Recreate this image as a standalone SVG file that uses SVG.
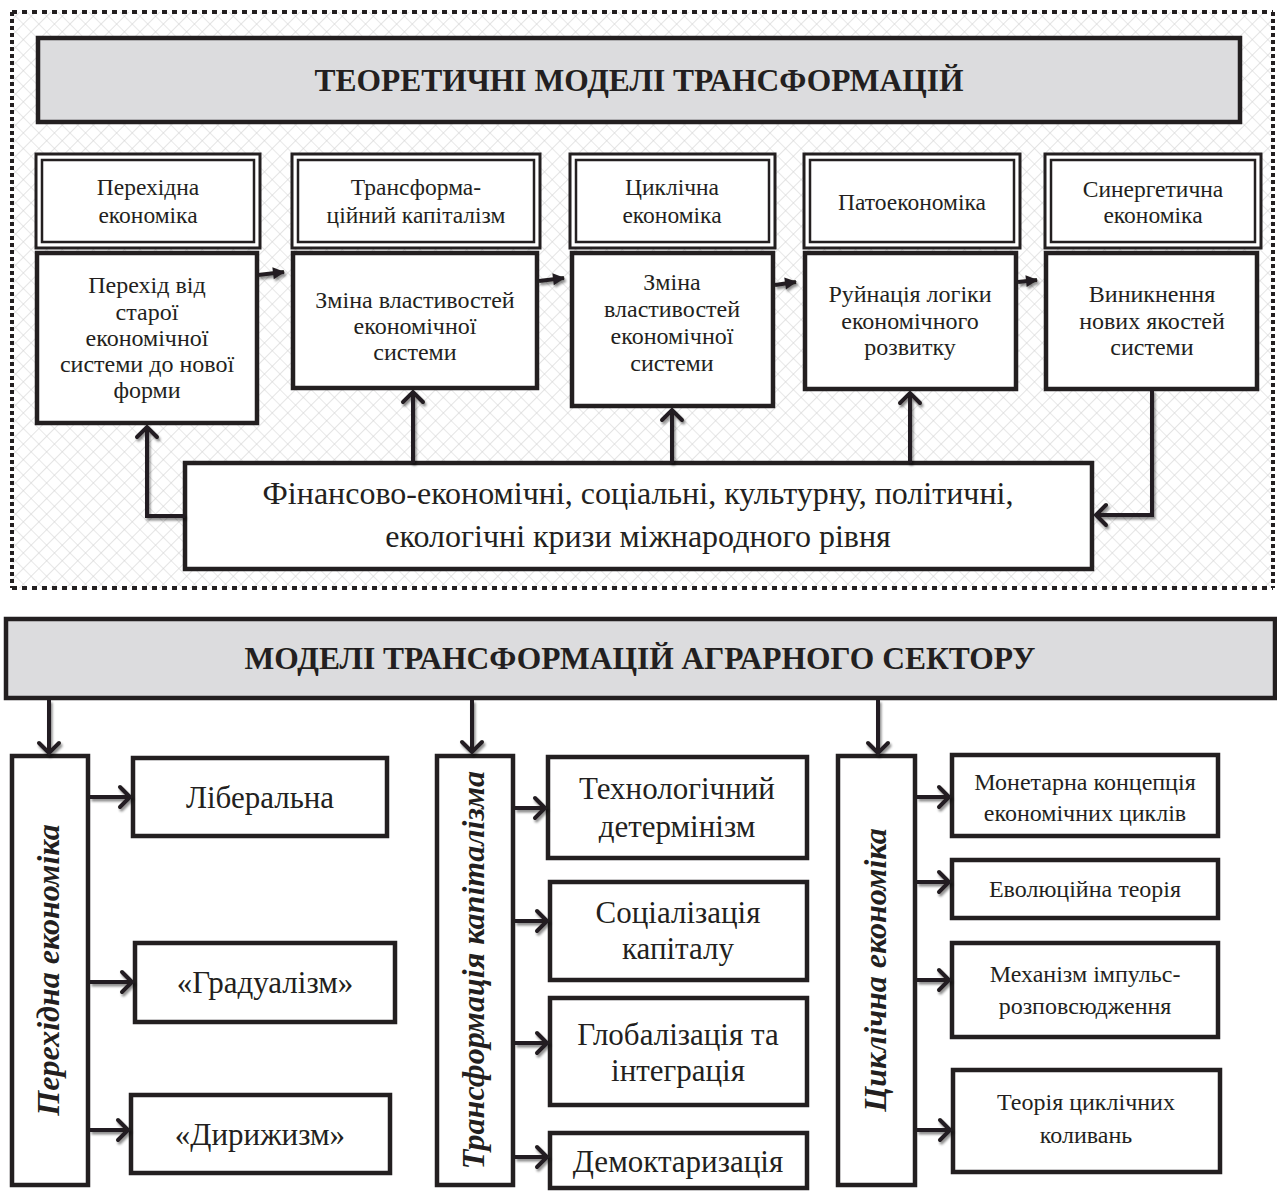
<svg xmlns="http://www.w3.org/2000/svg" width="1277" height="1191" viewBox="0 0 1277 1191">
<style>
.t{font-family:"Liberation Serif","Times New Roman",serif;fill:#231f20;text-anchor:middle}
.n{font-size:23.5px}
.d{font-size:24px}
.h{font-size:31.5px;font-weight:bold}
.c{font-size:32px}
.l{font-size:31px}
.r{font-size:24px}
.v{font-size:32px;font-weight:bold;font-style:italic}
.box{fill:#fff;stroke:#231f20;stroke-width:4.5}
.hdr{fill:#dcdcde;stroke:#231f20;stroke-width:4.5}
.dbo{fill:#fff;stroke:#231f20;stroke-width:3}
.dbi{fill:none;stroke:#231f20;stroke-width:2.5}
.ln{fill:none;stroke:#231f20;stroke-width:4}
.dot{stroke:#231f20;stroke-width:4;fill:none}
</style>
<defs>
<pattern id="hatch" width="11" height="11" patternUnits="userSpaceOnUse" patternTransform="rotate(45)">
<rect width="11" height="11" fill="#fff"/>
<path d="M0,0 H11 M0,0 V11" stroke="#d2d2d2" stroke-width="1.2"/>
</pattern>
<filter id="sh" filterUnits="userSpaceOnUse" x="0" y="0" width="1277" height="1191">
<feDropShadow dx="1.5" dy="2.5" stdDeviation="1" flood-color="#000" flood-opacity="0.45"/>
</filter>
<marker id="chev" viewBox="-14 -14 28 28" markerWidth="28" markerHeight="28" markerUnits="userSpaceOnUse" orient="auto">
<path d="M-10,-10 L0,0 L-10,10" fill="none" stroke="#231f20" stroke-width="4" stroke-linecap="round"/>
</marker>
<marker id="tri" viewBox="-13 -8 16 16" markerWidth="16" markerHeight="16" markerUnits="userSpaceOnUse" orient="auto">
<path d="M-11,-6 L1,0 L-11,6 Z" fill="#231f20"/>
</marker>
</defs>

<rect width="1277" height="1191" fill="#fff"/>

<!-- top frame -->
<g id="frame">
<rect x="12" y="12" width="1261" height="576" fill="url(#hatch)"/>
<line class="dot" x1="12" y1="12" x2="1273" y2="12" stroke-dasharray="5 5"/>
<line class="dot" x1="12" y1="588" x2="1273" y2="588" stroke-dasharray="5 5"/>
<line class="dot" x1="12" y1="12" x2="12" y2="588" stroke-dasharray="4 3"/>
<line class="dot" x1="1273" y1="12" x2="1273" y2="588" stroke-dasharray="4 3"/>
</g>

<g id="title1">
<rect class="hdr" x="38" y="38" width="1202" height="84"/>
<text class="t h" x="639" y="91">ТЕОРЕТИЧНІ МОДЕЛІ ТРАНСФОРМАЦІЙ</text>
</g>

<!-- name boxes -->
<g id="name1">
<rect class="dbo" x="36" y="154" width="224" height="94"/>
<rect class="dbi" x="42" y="160" width="212" height="82"/>
<text class="t n" x="148" y="195">Перехідна</text>
<text class="t n" x="148" y="223">економіка</text>
</g>
<g id="name2">
<rect class="dbo" x="292" y="154" width="248" height="94"/>
<rect class="dbi" x="298" y="160" width="236" height="82"/>
<text class="t n" x="416" y="195">Трансформа-</text>
<text class="t n" x="416" y="223">ційний капіталізм</text>
</g>
<g id="name3">
<rect class="dbo" x="570" y="154" width="205" height="94"/>
<rect class="dbi" x="576" y="160" width="193" height="82"/>
<text class="t n" x="672" y="195">Циклічна</text>
<text class="t n" x="672" y="223">економіка</text>
</g>
<g id="name4">
<rect class="dbo" x="804" y="154" width="216" height="94"/>
<rect class="dbi" x="810" y="160" width="204" height="82"/>
<text class="t n" x="912" y="210">Патоекономіка</text>
</g>
<g id="name5">
<rect class="dbo" x="1045" y="154" width="216" height="94"/>
<rect class="dbi" x="1051" y="160" width="204" height="82"/>
<text class="t n" x="1153" y="197">Синергетична</text>
<text class="t n" x="1153" y="223">економіка</text>
</g>

<!-- description boxes -->
<g id="desc1">
<rect class="box" x="37" y="253" width="220" height="170"/>
<text class="t d" x="147" y="293">Перехід від</text>
<text class="t d" x="147" y="320">старої</text>
<text class="t d" x="147" y="346">економічної</text>
<text class="t d" x="147" y="372">системи до нової</text>
<text class="t d" x="147" y="398">форми</text>
</g>
<g id="desc2">
<rect class="box" x="293" y="253" width="244" height="135"/>
<text class="t d" x="415" y="308">Зміна властивостей</text>
<text class="t d" x="415" y="334">економічної</text>
<text class="t d" x="415" y="360">системи</text>
</g>
<g id="desc3">
<rect class="box" x="572" y="253" width="201" height="153"/>
<text class="t d" x="672" y="290">Зміна</text>
<text class="t d" x="672" y="317">властивостей</text>
<text class="t d" x="672" y="344">економічної</text>
<text class="t d" x="672" y="371">системи</text>
</g>
<g id="desc4">
<rect class="box" x="805" y="253" width="211" height="136"/>
<text class="t d" x="910" y="302">Руйнація логіки</text>
<text class="t d" x="910" y="329">економічного</text>
<text class="t d" x="910" y="355">розвитку</text>
</g>
<g id="desc5">
<rect class="box" x="1046" y="253" width="211" height="136"/>
<text class="t d" x="1152" y="302">Виникнення</text>
<text class="t d" x="1152" y="329">нових якостей</text>
<text class="t d" x="1152" y="355">системи</text>
</g>

<g id="crisis">
<rect class="box" x="185" y="463" width="907" height="106"/>
<text class="t c" x="638" y="504">Фінансово-економічні, соціальні, культурну, політичні,</text>
<text class="t c" x="638" y="547">екологічні кризи міжнародного рівня</text>
</g>

<!-- lower section -->
<g id="title2">
<rect class="hdr" x="6" y="619" width="1269" height="79"/>
<text class="t h" x="640" y="669">МОДЕЛІ ТРАНСФОРМАЦІЙ АГРАРНОГО СЕКТОРУ</text>
</g>

<g id="col1">
<rect class="box" x="12" y="756" width="76" height="429"/>
<text class="t v" transform="translate(59,970) rotate(-90)">Перехідна економіка</text>
</g>
<g id="col2">
<rect class="box" x="437" y="756" width="76" height="429"/>
<text class="t v" transform="translate(484,970) rotate(-90)">Трансформація капіталізма</text>
</g>
<g id="col3">
<rect class="box" x="838" y="756" width="77" height="429"/>
<text class="t v" transform="translate(886,970) rotate(-90)">Циклічна економіка</text>
</g>

<g id="lib">
<rect class="box" x="133" y="758" width="254" height="78"/>
<text class="t l" x="260" y="808">Ліберальна</text>
</g>
<g id="grad">
<rect class="box" x="135" y="943" width="260" height="79"/>
<text class="t l" x="265" y="993">«Градуалізм»</text>
</g>
<g id="dyr">
<rect class="box" x="131" y="1095" width="259" height="78"/>
<text class="t l" x="260" y="1145">«Дирижизм»</text>
</g>

<g id="tech">
<rect class="box" x="548" y="757" width="259" height="101"/>
<text class="t l" x="677" y="799">Технологічний</text>
<text class="t l" x="677" y="837">детермінізм</text>
</g>
<g id="soc">
<rect class="box" x="550" y="882" width="257" height="98"/>
<text class="t l" x="678" y="923">Соціалізація</text>
<text class="t l" x="678" y="959">капіталу</text>
</g>
<g id="glob">
<rect class="box" x="550" y="998" width="257" height="107"/>
<text class="t l" x="678" y="1045">Глобалізація та</text>
<text class="t l" x="678" y="1081">інтеграція</text>
</g>
<g id="demo">
<rect class="box" x="550" y="1133" width="257" height="55"/>
<text class="t l" x="678" y="1172">Демоктаризація</text>
</g>

<g id="mon">
<rect class="box" x="952" y="755" width="266" height="81"/>
<text class="t r" x="1085" y="790">Монетарна концепція</text>
<text class="t r" x="1085" y="821">економічних циклів</text>
</g>
<g id="evo">
<rect class="box" x="952" y="860" width="266" height="58"/>
<text class="t r" x="1085" y="897">Еволюційна теорія</text>
</g>
<g id="mech">
<rect class="box" x="952" y="943" width="266" height="94"/>
<text class="t r" x="1085" y="982">Механізм імпульс-</text>
<text class="t r" x="1085" y="1014">розповсюдження</text>
</g>
<g id="teor">
<rect class="box" x="953" y="1070" width="267" height="102"/>
<text class="t r" x="1086" y="1110">Теорія циклічних</text>
<text class="t r" x="1086" y="1143">коливань</text>
</g>

<!-- connectors -->
<g id="connectors" filter="url(#sh)">
<path class="ln" d="M258,275 L284,272" marker-end="url(#tri)"/>
<path class="ln" d="M539,281 L564,278" marker-end="url(#tri)"/>
<path class="ln" d="M775,285 L796,282" marker-end="url(#tri)"/>
<path class="ln" d="M1018,282 L1037,280" marker-end="url(#tri)"/>

<path class="ln" d="M185,516 H147 V427" marker-end="url(#chev)"/>
<path class="ln" d="M413,463 V392" marker-end="url(#chev)"/>
<path class="ln" d="M672,463 V410" marker-end="url(#chev)"/>
<path class="ln" d="M910,463 V393" marker-end="url(#chev)"/>
<path class="ln" d="M1152,390 V515 H1096" marker-end="url(#chev)"/>

<path class="ln" d="M49,700 V753" marker-end="url(#chev)"/>
<path class="ln" d="M472,700 V752" marker-end="url(#chev)"/>
<path class="ln" d="M878,700 V753" marker-end="url(#chev)"/>

<path class="ln" d="M90,797 H130" marker-end="url(#chev)"/>
<path class="ln" d="M90,982 H132" marker-end="url(#chev)"/>
<path class="ln" d="M90,1130 H128" marker-end="url(#chev)"/>

<path class="ln" d="M515,808 H545" marker-end="url(#chev)"/>
<path class="ln" d="M515,921 H547" marker-end="url(#chev)"/>
<path class="ln" d="M515,1043 H547" marker-end="url(#chev)"/>
<path class="ln" d="M515,1157 H547" marker-end="url(#chev)"/>

<path class="ln" d="M917,797 H949" marker-end="url(#chev)"/>
<path class="ln" d="M917,882 H949" marker-end="url(#chev)"/>
<path class="ln" d="M917,980 H949" marker-end="url(#chev)"/>
<path class="ln" d="M917,1130 H950" marker-end="url(#chev)"/>
</g>
</svg>
